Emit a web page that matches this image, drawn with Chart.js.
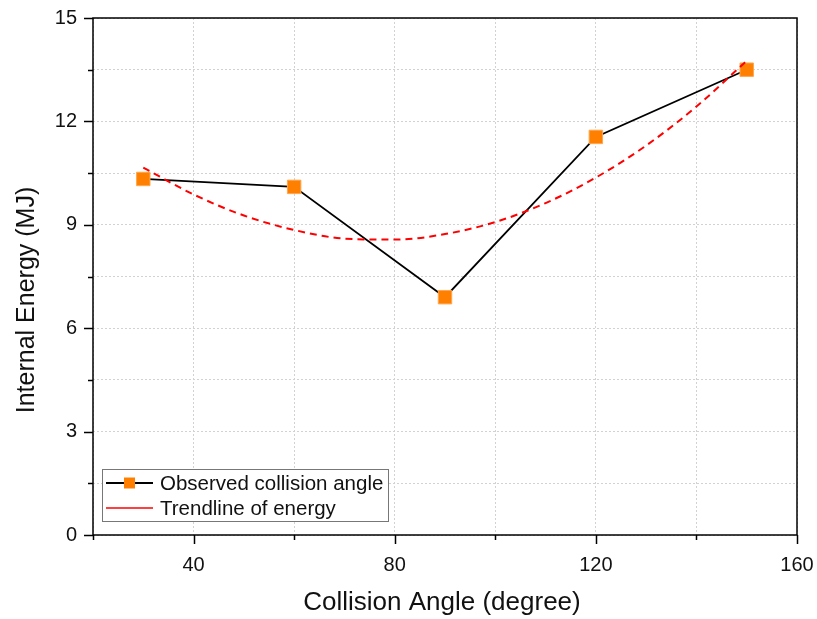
<!DOCTYPE html>
<html><head><meta charset="utf-8">
<script src="https://cdn.jsdelivr.net/npm/chart.js@4/dist/chart.umd.min.js"></script>
<style>html,body{margin:0;padding:0;background:#fff}#w{width:817px;height:619px;position:relative}</style>
</head><body><div id="w"><canvas id="c" width="817" height="619"></canvas></div>
<script>
// ---- data ----
const angles = [30, 60, 90, 120, 150];
const energy = [10.33, 10.1, 6.9, 11.55, 13.5];
const trendAngles = [30, 40, 50, 60, 70, 80, 90, 100, 110, 120, 130, 140, 150];
const trendEnergy = [10.66, 9.88, 9.27, 8.85, 8.6, 8.57, 8.73, 9.08, 9.63, 10.37, 11.3, 12.43, 13.76];
const xTickLabels = [40, 80, 120, 160];
const yTickLabels = [0, 3, 6, 9, 12, 15];
const seriesNames = ['Observed collision angle', 'Trendline of energy'];
const xTitle = 'Collision Angle (degree)';
const yTitle = 'Internal Energy (MJ)';

const FONT = '"Liberation Sans", Arial, sans-serif';
const ORANGE = '#FF8000';

const obsData = angles.map((a, i) => ({x: a, y: energy[i]}));
const trendData = trendAngles.map((a, i) => ({x: a, y: trendEnergy[i]}));

function noPad(s) {
  s.paddingLeft = 0; s.paddingRight = 0; s.paddingTop = 0; s.paddingBottom = 0;
}

const decor = {
  id: 'decor',
  afterDraw(chart) {
    const ctx = chart.ctx;
    const ca = chart.chartArea;
    const xs = chart.scales.x, ys = chart.scales.y;
    ctx.save();
    // frame
    ctx.strokeStyle = '#000';
    ctx.lineWidth = 1.5;
    ctx.strokeRect(ca.left, ca.top, ca.right - ca.left, ca.bottom - ca.top);
    // ticks
    ctx.lineWidth = 1.5;
    ctx.beginPath();
    for (let v = 0; v <= 15.001; v += 1.5) {
      const y = Math.round(ys.getPixelForValue(v)) + 0.5;
      const major = yTickLabels.some(t => Math.abs(t - v) < 1e-6);
      ctx.moveTo(ca.left - (major ? 9 : 5), y);
      ctx.lineTo(ca.left, y);
    }
    for (let v = 20; v <= 160; v += 20) {
      const x = Math.round(xs.getPixelForValue(v)) + 0.5;
      const major = xTickLabels.includes(v);
      ctx.moveTo(x, ca.bottom);
      ctx.lineTo(x, ca.bottom + (major ? 9 : 5));
    }
    ctx.stroke();
    // axis titles
    ctx.fillStyle = '#111';
    ctx.textAlign = 'center';
    ctx.textBaseline = 'middle';
    ctx.font = '26px ' + FONT;
    ctx.fillText(xTitle, (ca.left + ca.right) / 2 - 3, 603);
    ctx.font = '25px ' + FONT;
    ctx.save();
    ctx.translate(27, 300);
    ctx.rotate(-Math.PI / 2);
    ctx.fillText(yTitle, 0, 0);
    ctx.restore();
    // legend
    const lx = 102, ly = 469, lw = 286, lh = 52;
    ctx.fillStyle = '#fff';
    ctx.fillRect(lx, ly, lw, lh);
    ctx.strokeStyle = '#777';
    ctx.lineWidth = 1;
    ctx.strokeRect(lx + 0.5, ly + 0.5, lw, lh);
    const r1 = 483, r2 = 508;
    ctx.strokeStyle = '#000';
    ctx.lineWidth = 1.8;
    ctx.beginPath();
    ctx.moveTo(106, r1); ctx.lineTo(153, r1);
    ctx.stroke();
    ctx.fillStyle = ORANGE;
    ctx.fillRect(124, r1 - 5.5, 11, 11);
    ctx.strokeStyle = '#ff0000';
    ctx.lineWidth = 1.5;
    ctx.beginPath();
    ctx.moveTo(106, r2); ctx.lineTo(153, r2);
    ctx.stroke();
    ctx.fillStyle = '#111';
    ctx.textAlign = 'left';
    ctx.font = '20.5px ' + FONT;
    ctx.fillText(seriesNames[0], 160, r1 + 1);
    ctx.fillText(seriesNames[1], 160, r2 + 1);
    ctx.restore();
  }
};

new Chart(document.getElementById('c'), {
  type: 'line',
  data: {
    datasets: [
      {
        label: seriesNames[0],
        data: obsData,
        borderColor: '#000',
        borderWidth: 1.8,
        pointStyle: 'rect',
        pointRadius: 9.5,
        pointBackgroundColor: ORANGE,
        pointBorderColor: '#FFA64D',
        pointBorderWidth: 1,
        tension: 0,
        order: 1
      },
      {
        label: seriesNames[1],
        data: trendData,
        borderColor: '#FF0000',
        borderWidth: 2,
        borderDash: [7, 5],
        pointRadius: 0,
        cubicInterpolationMode: 'monotone',
        order: 0
      }
    ]
  },
  options: {
    responsive: false,
    animation: false,
    devicePixelRatio: 1,
    layout: {padding: {top: 18, right: 20, left: 0, bottom: 0}},
    plugins: {legend: {display: false}, tooltip: {enabled: false}},
    scales: {
      x: {
        type: 'linear',
        min: 20, max: 160,
        afterFit(s) { s.height = 84; noPad(s); },
        ticks: {
          stepSize: 20,
          autoSkip: false,
          maxRotation: 0,
          padding: 18,
          color: '#111',
          font: {family: FONT, size: 20},
          callback: v => xTickLabels.includes(v) ? String(v) : ''
        },
        grid: {color: '#d2d2d2', lineWidth: 1, drawTicks: false},
        border: {display: false, dash: [2, 2]}
      },
      y: {
        type: 'linear',
        min: 0, max: 15,
        afterFit(s) { s.width = 93; noPad(s); },
        ticks: {
          stepSize: 1.5,
          autoSkip: false,
          padding: 16,
          color: '#111',
          font: {family: FONT, size: 20},
          callback: v => yTickLabels.some(t => Math.abs(t - v) < 1e-6) ? String(Math.round(v)) : ''
        },
        grid: {color: '#d2d2d2', lineWidth: 1, drawTicks: false},
        border: {display: false, dash: [2, 2]}
      }
    }
  },
  plugins: [decor]
});
</script>
</body></html>
